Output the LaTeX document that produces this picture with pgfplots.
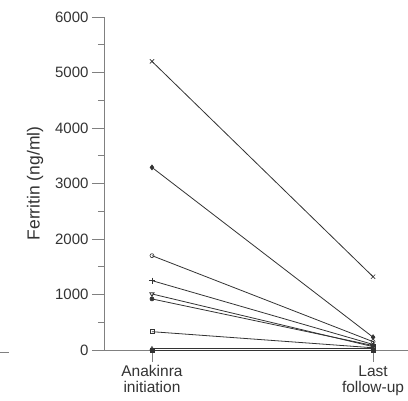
\documentclass[border=0pt]{standalone}
\usepackage{pgfplots}
\pgfplotsset{compat=1.18}
\usepackage{fontspec}
\setmainfont{Liberation Sans}
\definecolor{txt}{HTML}{333333}
\definecolor{axc}{HTML}{808080}
\definecolor{ln}{HTML}{333333}
\begin{document}
\begin{tikzpicture}[x=1pt,y=1pt]
\useasboundingbox (0,0) rectangle (408,401);
\draw[axc, line width=0.8pt] (0,49) -- (9,49);
\begin{axis}[
  at={(104pt,51pt)}, anchor=south west,
  scale only axis, width=304pt, height=333pt,
  xmin=-0.217, xmax=1.158, ymin=0, ymax=6000,
  axis x line*=bottom, axis y line*=left,
  axis line style={-, axc, line width=0.8pt},
  xtick={0,1}, xticklabels={Anakinra\\initiation, Last\\follow-up},
  xticklabel style={align=center, text=txt, font=\fontsize{15.5}{16}\selectfont},
  ytick={0,1000,...,6000}, minor y tick num=1,
  yticklabel style={text=txt, font=\fontsize{15}{16}\selectfont},
  /pgf/number format/assume math mode=true,
  /pgf/number format/1000 sep={},
  scaled y ticks=false,
  tick align=outside, major tick length=12pt, minor tick length=6pt,
  tick style={axc, line width=0.8pt},
  ylabel={Ferritin (ng/ml)},
  ylabel style={at={(rel axis cs:-0.227,0.5)}, anchor=center, text=txt, font=\fontsize{17.5}{19}\selectfont},
  every axis plot/.append style={ln, line width=0.8pt, mark size=2pt, mark options={solid, line width=0.6pt}},
  clip=false,
]
\addplot[mark=x, mark size=3pt] coordinates {(0,5200) (1,1320)};
\addplot[mark=diamond*, mark size=2.5pt] coordinates {(0,3290) (1,230)};
\addplot[mark=o] coordinates {(0,1700) (1,150)};
\addplot[mark=+, mark size=3pt] coordinates {(0,1250) (1,100)};
\addplot[mark=triangle, mark size=2.5pt, mark options={rotate=180}] coordinates {(0,1010) (1,60)};
\addplot[mark=*] coordinates {(0,920) (1,80)};
\addplot[mark=square, mark size=2pt] coordinates {(0,330) (1,40)};
\addplot[mark=triangle, mark size=2.5pt] coordinates {(0,20) (1,20)};
\addplot[mark=square*, mark size=2pt] coordinates {(0,0) (1,0)};
\end{axis}
\end{tikzpicture}
\end{document}
